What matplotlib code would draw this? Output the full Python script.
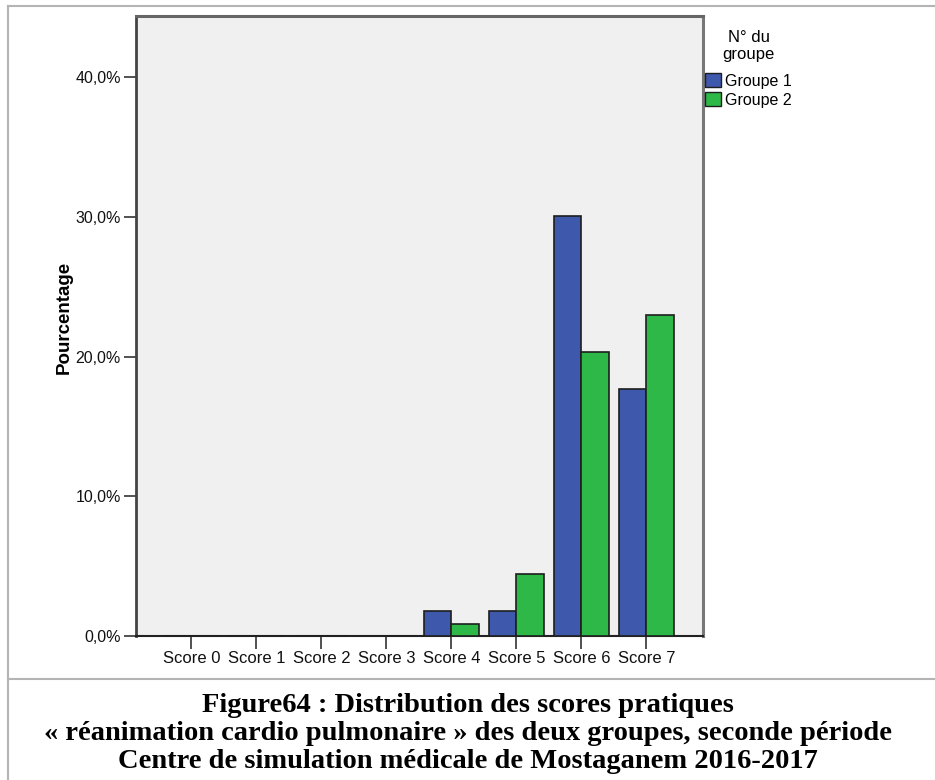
import matplotlib
matplotlib.use("Agg")
import matplotlib.pyplot as plt
from matplotlib.lines import Line2D
from matplotlib.patches import Patch

# Data: percentage of all participants per practical score, by group
categories = ["Score 0", "Score 1", "Score 2", "Score 3",
              "Score 4", "Score 5", "Score 6", "Score 7"]
groupe_1 = [0.0, 0.0, 0.0, 0.0, 1.77, 1.77, 30.09, 17.70]
groupe_2 = [0.0, 0.0, 0.0, 0.0, 0.88, 4.42, 20.35, 23.01]
series_names = ["Groupe 1", "Groupe 2"]
y_ticks = [0, 10, 20, 30, 40]
y_tick_labels = ["0,0%", "10,0%", "20,0%", "30,0%", "40,0%"]
caption_lines = [
    "Figure64 : Distribution des scores pratiques",
    "« réanimation cardio pulmonaire » des deux groupes, seconde période",
    "Centre de simulation médicale de Mostaganem 2016-2017",
]

W, H = 935, 780
fig = plt.figure(figsize=(W / 100, H / 100), dpi=100)
fig.patch.set_facecolor("white")

sans = ["Liberation Sans", "DejaVu Sans"]
serif = ["Liberation Serif", "DejaVu Serif"]

# Outer frame of the figure block
gray = "#b4b4b4"
fig.add_artist(Line2D([8 / W, 8 / W], [0, 1 - 6 / H], transform=fig.transFigure,
                      color=gray, lw=1.5))
fig.add_artist(Line2D([8 / W, 1], [1 - 6 / H, 1 - 6 / H], transform=fig.transFigure,
                      color=gray, lw=1.5))
fig.add_artist(Line2D([8 / W, 1], [1 - 679 / H, 1 - 679 / H], transform=fig.transFigure,
                      color=gray, lw=1.5))

# Plot area
left, right, top, bottom = 136, 703, 16, 636
ax = fig.add_axes([left / W, 1 - bottom / H, (right - left) / W, (bottom - top) / H])
ax.set_facecolor("#f0f0f0")

colors = ["#3e58ac", "#2eb848"]
bw = 0.42
x = list(range(len(categories)))
for i, (vals, col, name) in enumerate(zip([groupe_1, groupe_2], colors, series_names)):
    offs = -bw / 2 if i == 0 else bw / 2
    ax.bar([xi + offs for xi in x], vals, width=bw, color=col,
           edgecolor="#1e1e1e", linewidth=1.2, label=name, zorder=3)

ax.set_xlim(-0.85, 7.87)
ax.set_ylim(0, 44.4)
ax.set_xticks(x)
ax.set_xticklabels(categories, fontsize=12, family=sans)
ax.set_yticks(y_ticks)
ax.set_yticklabels(y_tick_labels, fontsize=11.5, family=sans)
ax.tick_params(axis="both", direction="out", length=9, width=1.2, color="#333333",
               labelcolor="#111111", pad=2)

for side, c, lw in [("left", "#444444", 2.0), ("bottom", "#222222", 1.5),
                    ("top", "#666666", 2.2), ("right", "#777777", 2.2)]:
    ax.spines[side].set_color(c)
    ax.spines[side].set_linewidth(lw)

ax.set_ylabel("Pourcentage", fontsize=13.5, fontweight="bold", family=sans)
ax.yaxis.set_label_coords((73 - left) / (right - left), (bottom - 317) / (bottom - top))

# Legend to the right of the plot area
handles = [Patch(facecolor=c, edgecolor="#1e1e1e", linewidth=1.0) for c in colors]
leg = fig.legend(handles, series_names, title="N° du\ngroupe",
                 loc="upper left", bbox_to_anchor=(702 / W, 1 - 27 / H),
                 frameon=False, title_fontsize=12,
                 handlelength=1.0, handleheight=1.0, handletextpad=0.25,
                 labelspacing=0.2, borderaxespad=0, borderpad=0.2,
                 prop={"family": sans, "size": 11.5})
leg.get_title().set_family(sans)
leg.get_title().set_multialignment("center")
leg.get_title().set_linespacing(1.15)
leg._legend_box.sep = 8

# Caption below the chart
for yy, line in zip([705, 734, 762], caption_lines):
    fig.text(0.5, 1 - yy / H, line, ha="center", va="center",
             fontsize=20.5, fontweight="bold", family=serif)

fig.savefig("out.png", dpi=100)
